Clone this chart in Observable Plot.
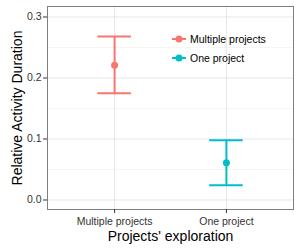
<!DOCTYPE html>
<html>
<head>
<meta charset="utf-8">
<script src="https://cdn.jsdelivr.net/npm/d3@7"></script>
<script src="https://cdn.jsdelivr.net/npm/@observablehq/plot@0.6"></script>
<style>
  html, body { margin: 0; padding: 0; background: #fff; }
  #wrap { position: relative; width: 300px; height: 250px; font-family: "Liberation Sans", Arial, sans-serif; }
  #legend { position: absolute; left: 165px; top: 29px; }
</style>
</head>
<body>
<div id="wrap"></div>
<script>
const categories = ["Multiple projects", "One project"];
const means = [0.221, 0.061];
const lower = [0.175, 0.024];
const upper = [0.268, 0.098];
const colors = ["#F8766D", "#00BFC4"];
const yTicks = [0, 0.1, 0.2, 0.3];
const yMinorTicks = [0.05, 0.15, 0.25];
const xLabel = "Projects' exploration";
const yLabel = "Relative Activity Duration";

const data = categories.map((c, i) => ({cat: c, xi: i + 1, mean: means[i], lo: lower[i], hi: upper[i]}));
const capHalf = 0.15;

const chart = Plot.plot({
  width: 300,
  height: 250,
  marginLeft: 47,
  marginRight: 7,
  marginTop: 6,
  marginBottom: 41,
  style: {fontFamily: "'Liberation Sans', Arial, sans-serif", background: "#fff"},
  x: {type: "linear", domain: [0.4, 2.6]},
  y: {domain: [-0.0156, 0.3172]},
  color: {domain: categories, range: colors},
  marks: [
    Plot.gridY(yMinorTicks, {stroke: "#f5f5f5", strokeOpacity: 1, strokeWidth: 1}),
    Plot.gridY(yTicks, {stroke: "#e6e6e6", strokeOpacity: 1, strokeWidth: 1}),
    Plot.gridX(data.map(d => d.xi), {stroke: "#e6e6e6", strokeOpacity: 1, strokeWidth: 1}),
    Plot.ruleX(data, {x: "xi", y1: "lo", y2: "hi", stroke: "cat", strokeWidth: 2}),
    Plot.ruleY(data, {y: "hi", x1: d => d.xi - capHalf, x2: d => d.xi + capHalf, stroke: "cat", strokeWidth: 2}),
    Plot.ruleY(data, {y: "lo", x1: d => d.xi - capHalf, x2: d => d.xi + capHalf, stroke: "cat", strokeWidth: 2}),
    Plot.dot(data, {x: "xi", y: "mean", fill: "cat", r: 3.5}),
    Plot.frame({stroke: "#7f7f7f", strokeWidth: 1}),
    Plot.axisY(yTicks, {
      tickFormat: d3.format(".1f"), tickSize: 4, tickPadding: 2, fontSize: 10.5,
      stroke: "#333", fill: "#333",
      label: yLabel, labelAnchor: "center", labelOffset: 35, labelArrow: "none"
    }),
    Plot.axisX(data.map(d => d.xi), {
      tickFormat: d => categories[d - 1], tickSize: 4, tickPadding: 4, fontSize: 10.5,
      stroke: "#333", fill: "#333",
      label: xLabel, labelAnchor: "center", labelOffset: 31, labelArrow: "none"
    })
  ]
});

// enlarge axis titles
chart.querySelectorAll("[aria-label='y-axis label'] text, [aria-label='x-axis label'] text").forEach(t => {
  t.setAttribute("font-size", "14");
  t.style.fontSize = "14px";
  t.setAttribute("fill", "#000");
});

const wrap = document.getElementById("wrap");
wrap.appendChild(chart);

// legend inside the panel
const ns = "http://www.w3.org/2000/svg";
const lg = document.createElementNS(ns, "svg");
lg.setAttribute("id", "legend");
lg.setAttribute("width", 130);
lg.setAttribute("height", 40);
categories.forEach((c, i) => {
  const y = 10 + i * 19;
  const line = document.createElementNS(ns, "line");
  line.setAttribute("x1", 7); line.setAttribute("x2", 21);
  line.setAttribute("y1", y); line.setAttribute("y2", y);
  line.setAttribute("stroke", colors[i]); line.setAttribute("stroke-width", 2);
  lg.appendChild(line);
  const dot = document.createElementNS(ns, "circle");
  dot.setAttribute("cx", 14); dot.setAttribute("cy", y); dot.setAttribute("r", 3.5);
  dot.setAttribute("fill", colors[i]);
  lg.appendChild(dot);
  const t = document.createElementNS(ns, "text");
  t.setAttribute("x", 25); t.setAttribute("y", y);
  t.setAttribute("dy", "0.35em");
  t.setAttribute("font-size", "10.5");
  t.setAttribute("font-family", "'Liberation Sans', Arial, sans-serif");
  t.setAttribute("fill", "#000");
  t.textContent = c;
  lg.appendChild(t);
});
wrap.appendChild(lg);
</script>
</body>
</html>
